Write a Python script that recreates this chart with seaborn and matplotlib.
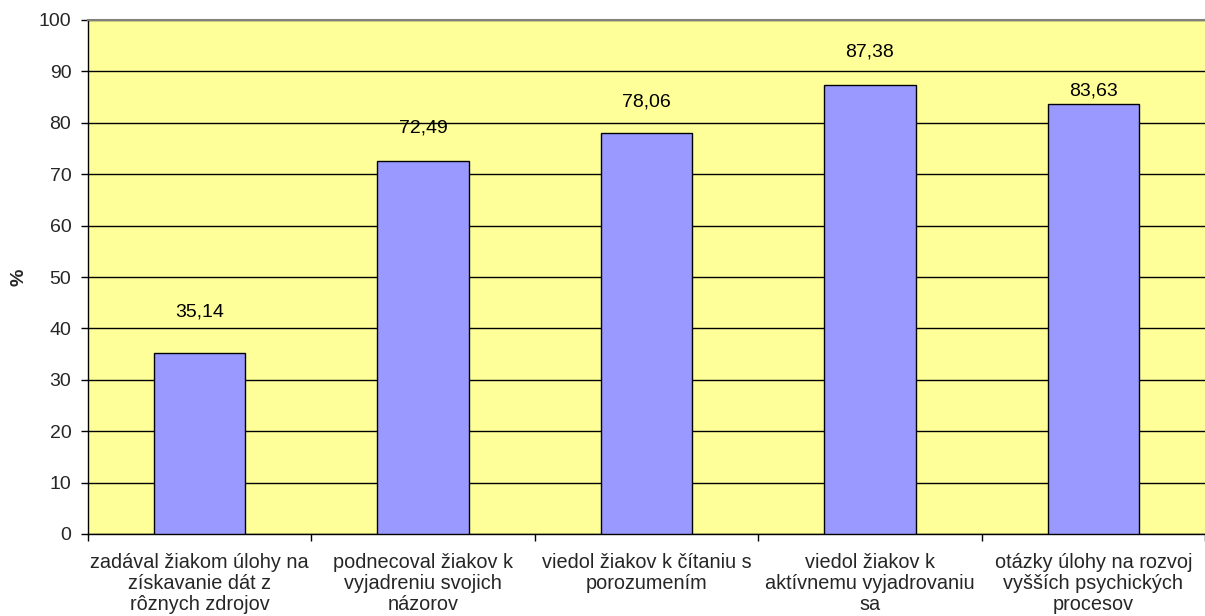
import numpy as np
import pandas as pd
import matplotlib
matplotlib.use("Agg")
import matplotlib.pyplot as plt
import seaborn as sns

categories = [
    "zadával žiakom úlohy na\nzískavanie dát z\nrôznych zdrojov",
    "podnecoval žiakov k\nvyjadreniu svojich\nnázorov",
    "viedol žiakov k čítaniu s\nporozumením",
    "viedol žiakov k\naktívnemu vyjadrovaniu\nsa",
    "otázky úlohy na rozvoj\nvyšších psychických\nprocesov",
]
values = [35.14, 72.49, 78.06, 87.38, 83.63]
value_labels = ["35,14", "72,49", "78,06", "87,38", "83,63"]
y_ticks = list(range(0, 101, 10))

sns.set_theme(style="white")
plt.rcParams["font.family"] = ["Liberation Sans", "DejaVu Sans"]

df = pd.DataFrame({"cat": categories, "val": values})

fig = plt.figure(figsize=(12.05, 6.16), dpi=100)
ax = fig.add_axes([88 / 1205, 1 - 534 / 616, 1 - 88 / 1205, (534 - 20) / 616])
ax.set_facecolor("#FFFF99")

sns.barplot(data=df, x="cat", y="val", color="#9999FF", width=0.41,
            edgecolor="black", linewidth=1, saturation=1, ax=ax, zorder=3)

# data labels above the bars
label_offsets = [8, 6.5, 6, 6.3, 2.5]
for i, (v, t) in enumerate(zip(values, value_labels)):
    ax.text(i, v + label_offsets[i], t, ha="center", va="center", fontsize=14, color="black")

ax.set_ylim(0, 100)
ax.set_xlim(-0.5, len(categories) - 0.5)
ax.set_yticks(y_ticks)
ax.yaxis.grid(True, color="black", linewidth=1, zorder=0)
ax.set_axisbelow(True)

ax.set_xlabel("")
ax.set_ylabel("%", fontsize=14, fontweight="bold", va="center")
ax.yaxis.set_label_coords(-69 / 1117, 0.5)

ax.tick_params(axis="y", which="major", length=5, width=1, color="black", direction="out",
               labelsize=14, pad=7, left=True)
ax.tick_params(axis="x", which="major", length=0, labelsize=14.3, pad=14)
ax.set_xticks(np.arange(-0.5, len(categories) + 0.5), minor=True)
ax.tick_params(axis="x", which="minor", length=5, width=1, color="black", direction="out", bottom=True)

for lbl in ax.get_xticklabels():
    lbl.set_linespacing(1.12)

for side in ["left", "bottom"]:
    ax.spines[side].set_color("black")
    ax.spines[side].set_linewidth(1)
ax.spines["top"].set_color("#808080")
ax.spines["top"].set_linewidth(1.5)
ax.spines["right"].set_visible(False)

fig.savefig("out.png", dpi=100, facecolor="white")
